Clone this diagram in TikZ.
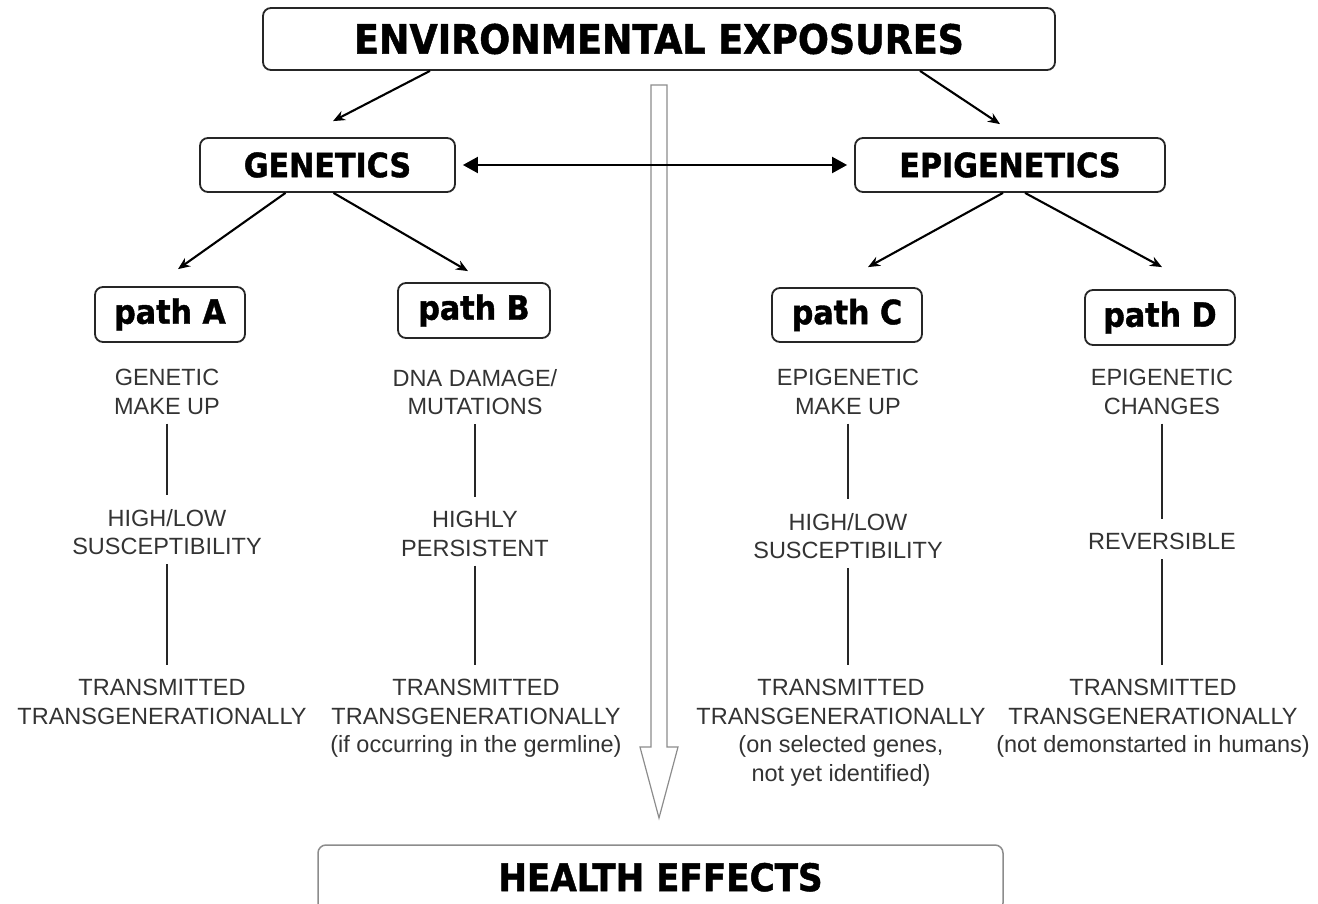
\documentclass[tikz,border=0pt]{standalone}
\usepackage{fontspec}
\setmainfont{Liberation Sans}
\newfontfamily\headfont{DejaVuSansCondensed-Bold.ttf}[FakeBold=1.2]
\usetikzlibrary{arrows.meta}

\tikzset{
  box/.style={draw=black!85, line width=1.8pt, rounded corners=8pt, inner sep=0pt, headfont},
  headfont/.style={font=\headfont\fontsize{33.5}{40}\selectfont},
  txt/.style={font=\fontsize{23.5}{28.5}\selectfont, align=center, inner sep=0pt, anchor=north, text=black!80},
  arr/.style={line width=2.1pt, -{Stealth[length=12pt,width=10pt]}},
  stem/.style={line width=1.3pt, black!85, shorten <=9pt, shorten >=14pt}
}

\begin{document}
\begin{tikzpicture}[x=1pt,y=-1pt]

\clip (0,0) rectangle (1318,904);

\node[box, minimum width=792pt, minimum height=62pt, font=\headfont\fontsize{40.5}{48}\selectfont] (top) at (659,39) {ENVIRONMENTAL EXPOSURES};
\node[box, minimum width=255pt, minimum height=54pt] (gen) at (327.5,165) {GENETICS};
\node[box, minimum width=310pt, minimum height=54pt] (epi) at (1010,165) {EPIGENETICS};

\node[box, minimum width=150pt, minimum height=55pt] (pA) at (170,314.5) {path A};
\node[box, minimum width=152pt, minimum height=55pt] (pB) at (474,310.5) {path B};
\node[box, minimum width=150pt, minimum height=54pt] (pC) at (847,315) {path C};
\node[box, minimum width=150pt, minimum height=55pt] (pD) at (1160,317.5) {path D};

\node[box, draw=black!45, line width=1.5pt, minimum width=685pt, minimum height=66pt, font=\headfont\fontsize{38}{45}\selectfont] (health) at (660.5,878) {\raisebox{2pt}{HEALTH EFFECTS}};

% hollow arrow down the middle
\draw[black!45, line width=1.2pt]
    (651,85)--(667,85)--(667,747)--(678,747)--(659,818)--(640,747)--(651,747)--cycle;

\draw[arr] ([xshift=-229pt]top.south) -- ([xshift=5.5pt,yshift=16pt]gen.north);
\draw[arr] ([xshift=261pt]top.south) -- ([xshift=-10pt,yshift=13pt]epi.north);
\draw[line width=2pt, {Triangle[length=15pt,width=16pt]}-{Triangle[length=15pt,width=16pt]}, shorten <=7pt, shorten >=7pt]
    (gen.east) -- (epi.west);

\draw[arr] ([xshift=-42pt]gen.south) -- ([xshift=8pt,yshift=17pt]pA.north);
\draw[arr] ([xshift=6pt]gen.south) -- ([xshift=-6pt,yshift=11pt]pB.north);
\draw[arr] ([xshift=-7pt]epi.south) -- ([xshift=21pt,yshift=20pt]pC.north);
\draw[arr] ([xshift=15pt]epi.south) -- ([xshift=2pt,yshift=22pt]pD.north);

% path A
\node[txt] (a1) at (167,369) {GENETIC\\MAKE UP};
\node[txt] (a2) at (167,509) {HIGH/LOW\\SUSCEPTIBILITY};
\node[txt] (a3) at (162,679) {TRANSMITTED\\TRANSGENERATIONALLY};
% path B
\node[txt] (b1) at (475,369) {DNA DAMAGE/\\MUTATIONS};
\node[txt] (b2) at (475,511) {HIGHLY\\PERSISTENT};
\node[txt] (b3) at (476,679) {TRANSMITTED\\TRANSGENERATIONALLY\\(if occurring in the germline)};
% path C
\node[txt] (c1) at (848,369) {EPIGENETIC\\MAKE UP};
\node[txt] (c2) at (848,513) {HIGH/LOW\\SUSCEPTIBILITY};
\node[txt] (c3) at (841,679) {TRANSMITTED\\TRANSGENERATIONALLY\\(on selected genes,\\not yet identified)};
% path D
\node[txt] (d1) at (1162,369) {EPIGENETIC\\CHANGES};
\node[txt] (d2) at (1162,533) {REVERSIBLE};
\node[txt] (d3) at (1153,679) {TRANSMITTED\\TRANSGENERATIONALLY\\(not demonstarted in humans)};

\draw[stem] (a1.south) -- (a2.north);
\draw[stem] (a2.south) -- (a2.south |- a3.north);
\draw[stem] (b1.south) -- (b2.north);
\draw[stem] (b2.south) -- (b2.south |- b3.north);
\draw[stem] (c1.south) -- (c2.north);
\draw[stem] (c2.south) -- (c2.south |- c3.north);
\draw[stem] (d1.south) -- (d2.north);
\draw[stem] (d2.south) -- (d2.south |- d3.north);

\end{tikzpicture}
\end{document}
